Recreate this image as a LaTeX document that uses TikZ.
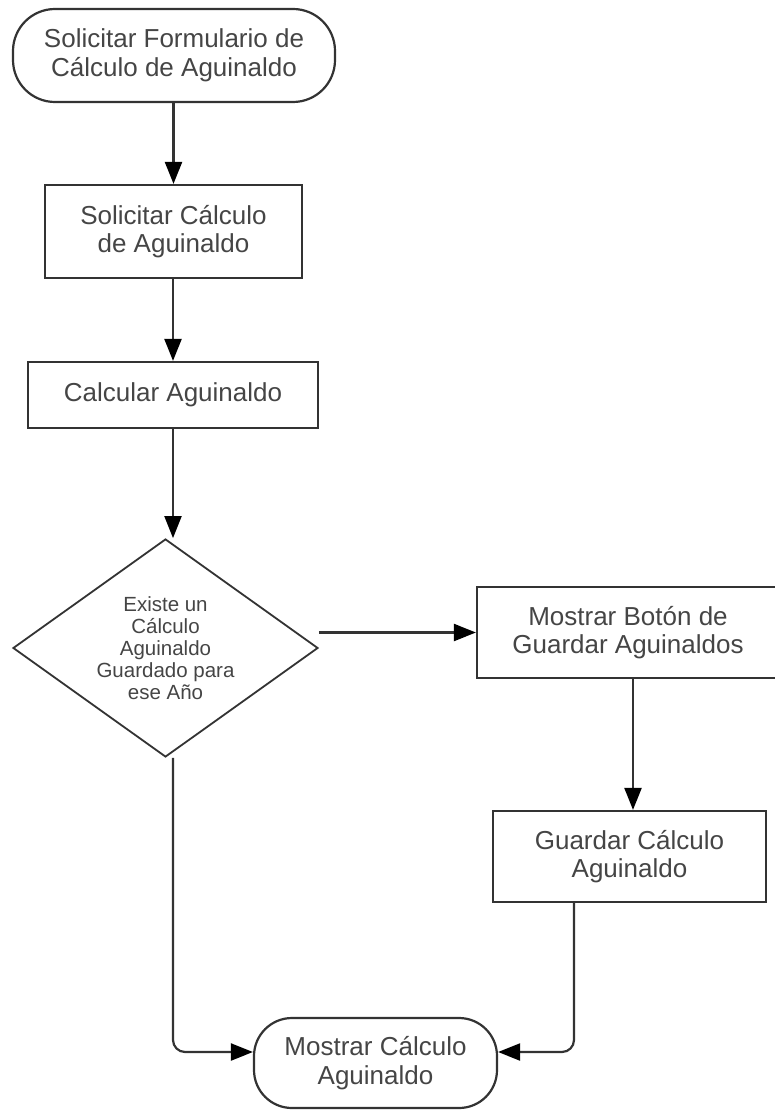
\documentclass[tikz,border=0pt]{standalone}
\usepackage{fontspec}
\setmainfont{Liberation Sans}
\usetikzlibrary{shapes.geometric,arrows.meta}
\definecolor{edge}{HTML}{333333}
\definecolor{ink}{HTML}{454545}
\tikzset{
  base/.style={draw=edge, line width=2.2pt, text=ink, align=center, inner sep=0pt,
    font=\fontsize{26}{28.5}\selectfont},
  term/.style={base, rectangle, rounded corners=42pt},
  proc/.style={base, rectangle},
  decide/.style={base, diamond, line width=1.8pt, font=\fontsize{20.5}{22}\selectfont},
  arr/.style={draw=edge, line width=2.2pt,
    -{Triangle[length=22pt,width=17pt,fill=black,color=black]}},
}
\begin{document}
\begin{tikzpicture}[x=1pt,y=-1pt]
  \useasboundingbox (0,0) rectangle (774,1110);

  % nodes
  \node[term, minimum width=322pt, minimum height=93pt] (start) at (174,55.5)
    {Solicitar Formulario de\\Cálculo de Aguinaldo};
  \node[proc, minimum width=257pt, minimum height=93pt] (sol) at (173.5,231.5)
    {Solicitar Cálculo\\de Aguinaldo};
  \node[proc, minimum width=290pt, minimum height=66pt] (calc) at (173,395)
    {Calcular Aguinaldo};
  \node[decide, minimum width=305pt, minimum height=218pt, aspect=1.4] (dec) at (165.5,648)
    {Existe un\\Cálculo\\Aguinaldo\\Guardado para\\ese Año};
  \node[proc, minimum width=302pt, minimum height=91pt] (btn) at (628,632.5)
    {Mostrar Botón de\\Guardar Aguinaldos};
  \node[proc, minimum width=273pt, minimum height=91pt] (save) at (629.5,856.5)
    {Guardar Cálculo\\Aguinaldo};
  \node[term, minimum width=243pt, minimum height=90pt, rounded corners=38pt] (show) at (375.5,1063)
    {Mostrar Cálculo\\Aguinaldo};

  % connectors
  \coordinate (bx) at (633,0);
  \coordinate (sv) at (574,0);
  \coordinate (dl) at ([xshift=7.5pt]dec.south);
  \coordinate (sl) at ([yshift=11pt]show.west);
  \coordinate (sr) at ([yshift=11pt]show.east);
  \draw[arr] (start.south -| sol.north) -- (sol.north);
  \draw[arr] (sol.south -| calc.north) -- (calc.north);
  \draw[arr] (calc.south) -- (calc.south |- dec.north);
  \draw[arr] (dec.east |- btn.west) -- (btn.west);
  \draw[arr] (btn.south -| bx) -- (save.north -| bx);
  \draw[arr, rounded corners=12pt] (dl) |- (sl);
  \draw[arr, rounded corners=12pt] (save.south -| sv) |- (sr);
\end{tikzpicture}
\end{document}
